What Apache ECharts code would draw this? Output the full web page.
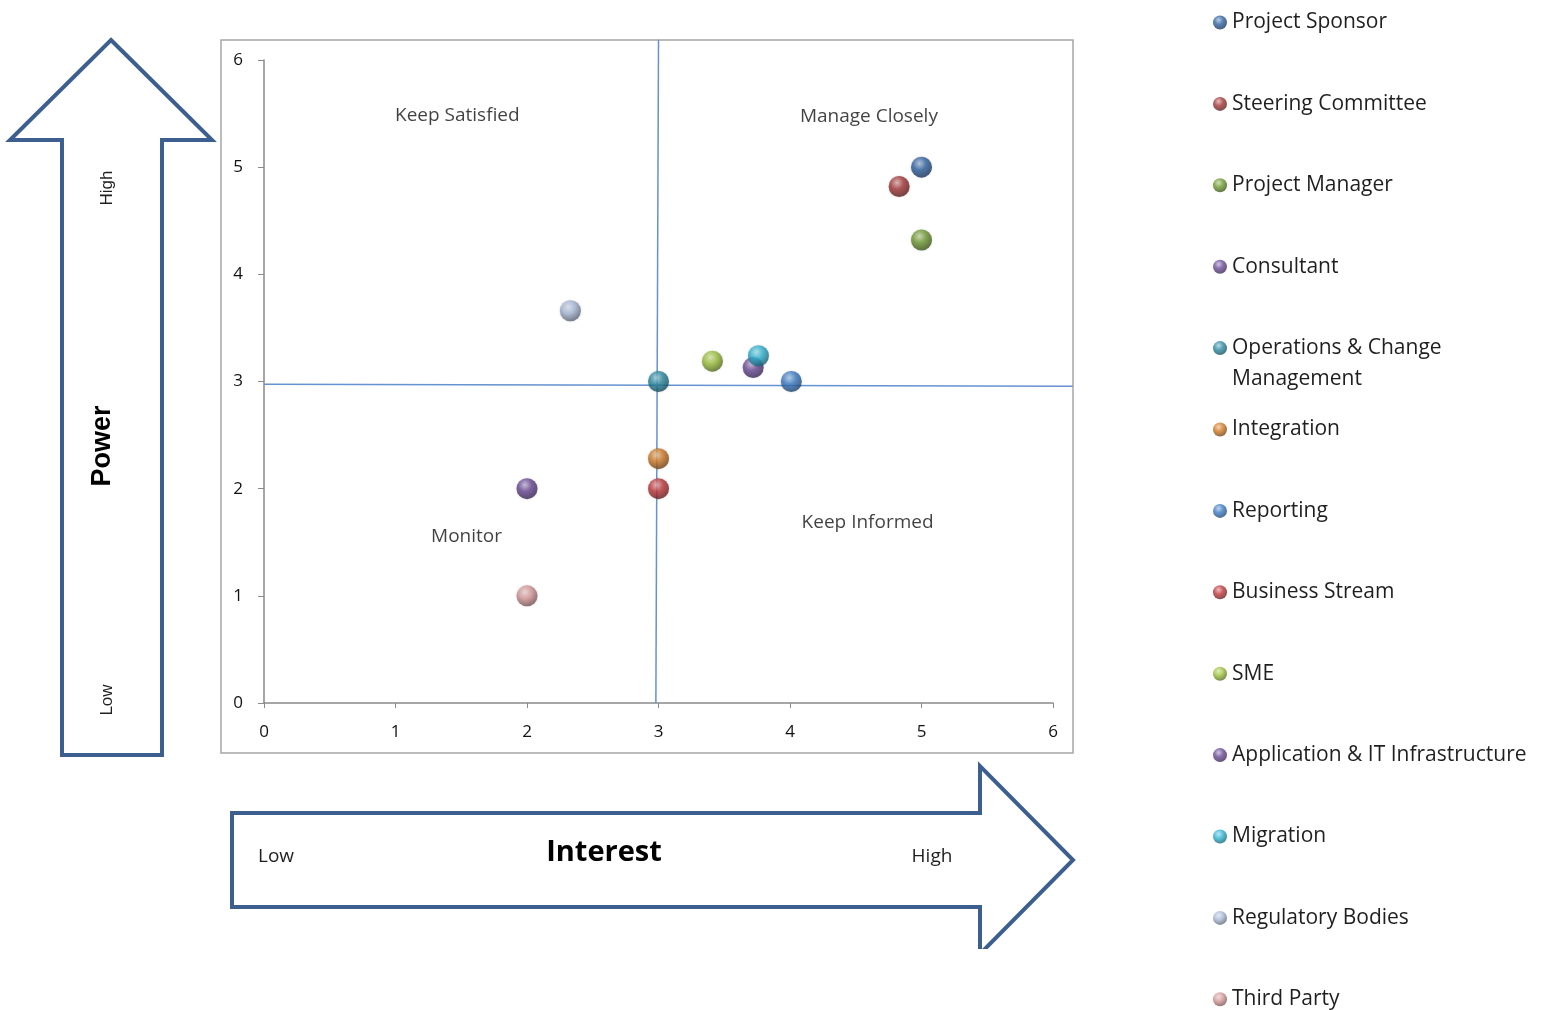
<!DOCTYPE html>
<html lang="en">
<head>
<meta charset="UTF-8" />
<title>Stakeholder Power / Interest</title>
<script src="https://cdn.jsdelivr.net/npm/echarts@6/dist/echarts.min.js"></script>
<style>
  html, body { margin: 0; padding: 0; background: #fff; }
  #main { width: 1554px; height: 1010px; }
</style>
</head>
<body>
<div id="main"></div>
<script>
// stakeholders: name, interest (x), power (y), colour
var names = ['Project Sponsor', 'Steering Committee', 'Project Manager', 'Consultant',
    'Operations & Change Management', 'Integration', 'Reporting', 'Business Stream',
    'SME', 'Application & IT Infrastructure', 'Migration', 'Regulatory Bodies', 'Third Party'];
var interest = [5, 4.83, 5, 3.72, 3, 3, 4.01, 3, 3.41, 2, 3.76, 2.33, 2];
var power    = [5, 4.82, 4.32, 3.13, 3, 2.28, 3, 2, 3.19, 2, 3.24, 3.66, 1];
var colors = ['#2f61a3', '#a53636', '#6f9a30', '#6c4b98', '#2a8aa3', '#d17a24', '#3a7cc6',
    '#c1373a', '#9cc23a', '#6a4896', '#2db4d2', '#a7b8d6', '#d69898'];

// quadrant labels [x, y, text]
var quadrants = [
    [1.47, 5.48, 'Keep Satisfied'],
    [4.60, 5.47, 'Manage Closely'],
    [1.54, 1.55, 'Monitor'],
    [4.59, 1.68, 'Keep Informed']
];
// divider lines (slightly hand drawn)
var vLine = [[2.98, 0], [3.0, 6.19]];
var hLine = [[0, 2.975], [6.15, 2.955]];

function lighten(hex, k) {
    var n = parseInt(hex.slice(1), 16);
    var r = n >> 16, g = (n >> 8) & 255, b = n & 255;
    r = Math.round(r + (255 - r) * k); g = Math.round(g + (255 - g) * k); b = Math.round(b + (255 - b) * k);
    return 'rgb(' + r + ',' + g + ',' + b + ')';
}
function darken(hex, k) {
    var n = parseInt(hex.slice(1), 16);
    var r = n >> 16, g = (n >> 8) & 255, b = n & 255;
    return 'rgb(' + Math.round(r * k) + ',' + Math.round(g * k) + ',' + Math.round(b * k) + ')';
}
function sphere(c) {
    return new echarts.graphic.RadialGradient(0.4, 0.32, 0.7, [
        { offset: 0, color: lighten(c, 0.6) },
        { offset: 0.45, color: c },
        { offset: 1, color: darken(c, 0.55) }
    ]);
}

var chart = echarts.init(document.getElementById('main'));

var series = [
    {
        name: 'quadrants', type: 'scatter', symbolSize: 0, silent: true,
        data: quadrants.map(function (q) { return { value: [q[0], q[1]], name: q[2] }; }),
        label: {
            show: true, position: 'inside', formatter: '{b}',
            fontFamily: 'Open Sans', fontSize: 19, color: '#111'
        }
    }
];
var legends = [];
names.forEach(function (n, i) {
    series.push({
        name: n, type: 'scatter', symbol: 'circle', symbolSize: 21, z: 5,
        data: [[interest[i], power[i]]],
        itemStyle: { color: sphere(colors[i]), shadowColor: 'rgba(0,0,0,0.25)', shadowBlur: 2 }
    });
    legends.push({
        data: [n], orient: 'vertical', left: 1208, top: 7 + i * 81.4,
        itemWidth: 14, itemHeight: 14, icon: 'circle',
        formatter: n === 'Operations & Change Management' ? 'Operations & Change' : '{name}',
        textStyle: { fontFamily: 'Open Sans', fontSize: 21, color: '#1f1f1f' }
    });
});

var arrowStyle = { fill: '#fff', stroke: '#3c5f8f', lineWidth: 4 };
var textStyle = { fill: '#1f1f1f', align: 'center', verticalAlign: 'middle' };
function st(text, font, extra) {
    return Object.assign({ text: text, font: font }, textStyle, extra || {});
}

var option = {
    animation: false,
    backgroundColor: '#fff',
    grid: { left: 264, top: 60, right: 501, bottom: 307 },
    legend: legends,
    xAxis: {
        type: 'value', min: 0, max: 6, interval: 1,
        splitLine: { show: false },
        axisLine: { lineStyle: { color: '#8a8a8a', width: 1.5 } },
        axisTick: { show: true, length: 5, lineStyle: { color: '#8a8a8a' } },
        axisLabel: { fontFamily: 'Open Sans', fontSize: 17, color: '#111', margin: 21 }
    },
    yAxis: {
        type: 'value', min: 0, max: 6, interval: 1,
        splitLine: { show: false },
        axisLine: { show: true, lineStyle: { color: '#8a8a8a', width: 1.5 } },
        axisTick: { show: true, length: 6, lineStyle: { color: '#8a8a8a' } },
        axisLabel: { fontFamily: 'Open Sans', fontSize: 17, color: '#111', margin: 21 }
    },
    graphic: [
        // plot area outline
        { type: 'rect', shape: { x: 221, y: 40, width: 852, height: 713 }, z: -10,
          style: { fill: 'none', stroke: '#a6a6a6', lineWidth: 1.5 } },
        // power arrow
        { type: 'polygon', z: -10, style: arrowStyle,
          shape: { points: [[111, 40], [212, 140], [162, 140], [162, 755], [62, 755], [62, 140], [10, 140]] } },
        { type: 'text', x: 107, y: 188, rotation: Math.PI / 2, z: -5, style: st('High', '17px "Liberation Sans"') },
        { type: 'text', x: 103, y: 446, rotation: Math.PI / 2, z: -5, style: st('Power', 'bold 27px "Liberation Sans"', { fill: '#000' }) },
        { type: 'text', x: 107, y: 700, rotation: Math.PI / 2, z: -5, style: st('Low', '17px "Liberation Sans"') },
        // interest arrow
        { type: 'polygon', z: -10, style: arrowStyle,
          shape: { points: [[232, 813], [980, 813], [980, 766], [1073, 860], [980, 954], [980, 907], [232, 907]] } },
        { type: 'rect', z: -9, shape: { x: 960, y: 949, width: 130, height: 20 }, style: { fill: '#fff' } },
        { type: 'text', x: 276, y: 857, z: -5, style: st('Low', '19px "Open Sans"') },
        { type: 'text', x: 604, y: 853, z: -5, style: st('Interest', 'bold 29px "Open Sans"', { fill: '#000' }) },
        { type: 'text', x: 932, y: 857, z: -5, style: st('High', '19px "Open Sans"') },
        // second line of the long legend entry
        { type: 'text', x: 1232, y: 379, style: st('Management', '21px "Open Sans"', { align: 'left' }) }
    ],
    series: series
};
chart.setOption(option);

// quadrant divider lines, placed through the chart's own scales
function toPx(pts) {
    return pts.map(function (p) { return chart.convertToPixel({ gridIndex: 0 }, p); });
}
var lineStyle = { stroke: '#6592d0', lineWidth: 1.5, fill: 'none' };
chart.setOption({
    graphic: option.graphic.concat([
        { type: 'polyline', z: 1, silent: true, shape: { points: toPx(vLine) }, style: lineStyle },
        { type: 'polyline', z: 1, silent: true, shape: { points: toPx(hLine) }, style: lineStyle }
    ])
});
</script>
</body>
</html>
